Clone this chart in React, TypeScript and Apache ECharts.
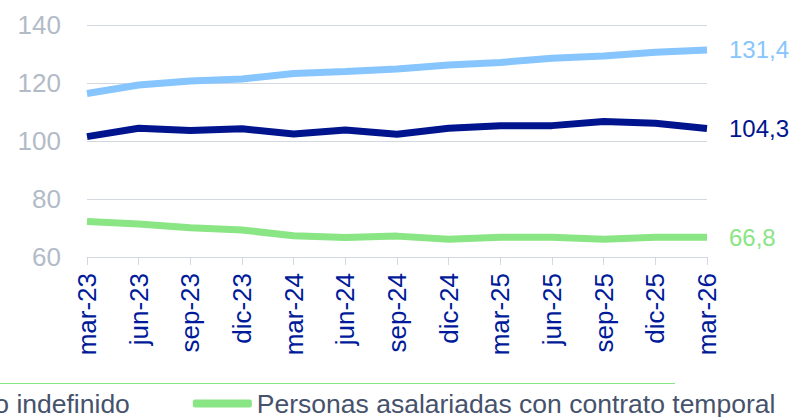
import React, { useEffect, useRef } from "react";
import * as echarts from "echarts";

const categories = ["mar-23","jun-23","sep-23","dic-23","mar-24","jun-24","sep-24","dic-24","mar-25","jun-25","sep-25","dic-25","mar-26"];
const seriesTotal = [116.4,119.3,120.7,121.4,123.3,124.0,124.8,126.2,127.1,128.5,129.3,130.6,131.4];
const seriesIndefinido = [101.5,104.4,103.6,104.2,102.4,103.8,102.3,104.4,105.3,105.3,106.7,106.1,104.3];
const seriesTemporal = [72.2,71.4,70.1,69.3,67.3,66.7,67.2,66.1,66.8,66.8,66.1,66.8,66.8];
const yTicks = { min: 60, max: 140, interval: 20 };
const names = [
  "Personas asalariadas con contrato fijo discontinuo",
  "Personas asalariadas con contrato indefinido",
  "Personas asalariadas con contrato temporal",
];

const FONT = "'Liberation Sans', Arial, sans-serif";
const C_LIGHT = "#86C5FD";
const C_NAVY = "#00148E";
const C_GREEN = "#8AE584";

export default function App() {
  const ref = useRef<HTMLDivElement>(null);
  useEffect(() => {
    if (!ref.current) return;
    const chart = echarts.init(ref.current, undefined, { renderer: "svg" });
    const fmt = (p: any) => String(p.value).replace(".", ",");
    const mk = (name: string, data: number[], color: string) => ({
      name,
      type: "line",
      data,
      symbol: "none",
      smooth: false,
      lineStyle: { color, width: 7 },
      itemStyle: { color },
      endLabel: {
        show: true,
        formatter: fmt,
        color,
        fontSize: 24,
        fontFamily: FONT,
        distance: 22,
      },
    });
    chart.setOption({
      animation: false,
      textStyle: { fontFamily: FONT },
      grid: { left: 87, right: 89, top: 25, bottom: 160, containLabel: false },
      legend: {
        data: [names[1], names[2]],
        left: -463,
        top: 390,
        padding: 0,
        itemWidth: 59,
        itemHeight: 8,
        itemGap: 63,
        icon: "roundRect",
        textStyle: { fontSize: 26.5, color: "#46526C", fontFamily: FONT },
      },
      xAxis: {
        type: "category",
        data: categories,
        boundaryGap: false,
        axisLine: { show: true, lineStyle: { color: "#D3D8E0", width: 1 } },
        axisTick: { show: true, length: 8, lineStyle: { color: "#D3D8E0" } },
        axisLabel: {
          rotate: 90,
          margin: 16,
          fontSize: 26,
          color: "#001A99",
          fontFamily: FONT,
          interval: 0,
        },
      },
      yAxis: {
        type: "value",
        min: yTicks.min,
        max: yTicks.max,
        interval: yTicks.interval,
        axisLine: { show: false },
        axisTick: { show: false },
        splitLine: { lineStyle: { color: "#D3D8E0", width: 1 } },
        axisLabel: { fontSize: 26, color: "#B3BBC7", margin: 26, fontFamily: FONT },
      },
      graphic: [
        {
          type: "line",
          shape: { x1: 0, y1: 383.5, x2: 675, y2: 383.5 },
          style: { stroke: C_GREEN, lineWidth: 1 },
          silent: true,
        },
      ],
      series: [
        mk(names[0], seriesTotal, C_LIGHT),
        mk(names[1], seriesIndefinido, C_NAVY),
        mk(names[2], seriesTemporal, C_GREEN),
      ],
    });
    return () => chart.dispose();
  }, []);
  return <div ref={ref} style={{ width: 796, height: 417, position: "absolute", left: 0, top: 0 }} />;
}
